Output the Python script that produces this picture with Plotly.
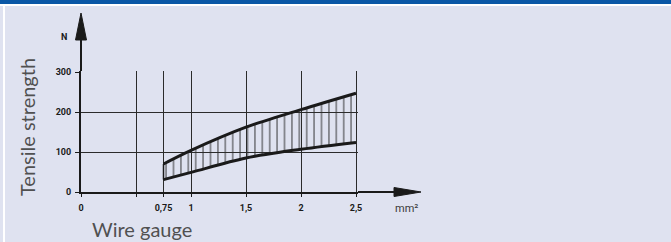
import plotly.graph_objects as go

# ---- data ----
wire_gauge = [0.75, 1, 1.5, 2, 2.5]
upper_strength = [70, 104, 162, 206, 247]
lower_strength = [31, 49, 85, 107, 124]

x_tick_vals = [0, 0.5, 0.75, 1, 1.5, 2, 2.5]
x_tick_text = ["0", "", "0,75", "1", "1,5", "2", "2,5"]
y_tick_vals = [0, 100, 200, 300]
y_tick_text = ["0", "100", "200", "300"]

W, H = 671, 242
L, R, T, B = 81, 313, 71, 50
PW, PH = W - L - R, H - T - B
X_MAX = 2.5 * PW / 275.0
Y_MAX = 300 * PH / 120.0

def px(x):
    return (x - L) / PW

def py(y):
    return (H - B - y) / PH

BG = "#dfe2f0"
INK = "#1a1a1a"
TICKFONT = "Roboto, Liberation Sans, sans-serif"
TITLEFONT = "Lato, Open Sans, sans-serif"

fig = go.Figure()

fig.add_trace(go.Scatter(
    x=wire_gauge, y=lower_strength, mode="lines",
    line=dict(color=INK, width=3, shape="spline"), hoverinfo="skip"))
fig.add_trace(go.Scatter(
    x=wire_gauge, y=upper_strength, mode="lines",
    line=dict(color=INK, width=3, shape="spline"),
    fill="tonexty", fillcolor="rgba(0,0,0,0)",
    fillpattern=dict(shape="|", size=7.4, solidity=0.25,
                     fgcolor="#2a2a2a", bgcolor="rgba(0,0,0,0)"),
    hoverinfo="skip"))
fig.add_trace(go.Scatter(
    x=[wire_gauge[0], wire_gauge[0]], y=[lower_strength[0], upper_strength[0]],
    mode="lines", line=dict(color=INK, width=1.5), hoverinfo="skip"))

shapes = []
# top band
shapes.append(dict(type="rect", xref="paper", yref="paper",
                   x0=px(0), x1=px(W), y0=py(4), y1=py(-2),
                   fillcolor="#0a57a6", line=dict(width=0), layer="below"))
shapes.append(dict(type="rect", xref="paper", yref="paper",
                   x0=px(0), x1=px(W), y0=py(6), y1=py(4),
                   fillcolor="#ffffff", line=dict(width=0), layer="below"))
shapes.append(dict(type="rect", xref="paper", yref="paper",
                   x0=px(3), x1=px(5), y0=py(H), y1=py(6),
                   fillcolor="#ffffff", line=dict(width=0), layer="below"))
# axis extensions + arrow heads
shapes.append(dict(type="line", xref="paper", yref="paper",
                   x0=0, x1=0, y0=1, y1=py(30), line=dict(color=INK, width=2)))
shapes.append(dict(type="path", xref="paper", yref="paper",
                   path=f"M {px(81)} {py(13)} L {px(86.5)} {py(40)} L {px(75.5)} {py(40)} Z",
                   fillcolor=INK, line=dict(color=INK, width=1)))
shapes.append(dict(type="line", xref="paper", yref="paper",
                   x0=1, x1=px(405), y0=0, y1=0, line=dict(color=INK, width=2)))
shapes.append(dict(type="path", xref="paper", yref="paper",
                   path=f"M {px(421)} {py(192)} L {px(394)} {py(187.5)} L {px(394)} {py(196.5)} Z",
                   fillcolor=INK, line=dict(color=INK, width=1)))

annotations = [
    dict(text="N", xref="paper", yref="paper", x=px(63.5), y=py(37),
         xanchor="center", yanchor="middle", showarrow=False,
         font=dict(size=9, color=INK, family=TICKFONT, weight="bold")),
    dict(text="mm²", xref="paper", yref="paper", x=px(406), y=py(208),
         xanchor="center", yanchor="middle", showarrow=False,
         font=dict(size=11, color="#3a3a3a", family=TICKFONT)),
    dict(text="Tensile strength", xref="paper", yref="paper", x=px(27), y=py(127),
         xanchor="center", yanchor="middle", textangle=-90, showarrow=False,
         font=dict(size=20, color="#505050", family=TITLEFONT)),
    dict(text="Wire gauge", xref="paper", yref="paper", x=px(142), y=py(229),
         xanchor="center", yanchor="middle", showarrow=False,
         font=dict(size=20, color="#505050", family=TITLEFONT)),
]

fig.update_layout(
    width=W, height=H,
    margin=dict(l=L, r=R, t=T, b=B, pad=0),
    paper_bgcolor=BG, plot_bgcolor=BG,
    showlegend=False,
    shapes=shapes, annotations=annotations,
    xaxis=dict(range=[0, X_MAX], tickvals=x_tick_vals, ticktext=x_tick_text,
               showgrid=True, gridcolor="#2b2b2b", gridwidth=1,
               zeroline=False, showline=True, linecolor=INK, linewidth=2,
               ticks="outside", ticklen=3, tickcolor=INK, tickwidth=1,
               ticklabelstandoff=3,
               tickfont=dict(size=9, color=INK, family=TICKFONT, weight="bold"),
               fixedrange=True),
    yaxis=dict(range=[0, Y_MAX], tickvals=y_tick_vals, ticktext=y_tick_text,
               showgrid=True, gridcolor="#2b2b2b", gridwidth=1,
               zeroline=False, showline=True, linecolor=INK, linewidth=2,
               ticks="outside", ticklen=4, tickcolor=INK, tickwidth=1,
               ticklabelstandoff=2,
               tickfont=dict(size=9, color=INK, family=TICKFONT, weight="bold"),
               fixedrange=True),
)

fig.write_html("out.html", config={"displayModeBar": False},
               post_script="document.body.style.margin='0';document.body.style.overflow='hidden';")
